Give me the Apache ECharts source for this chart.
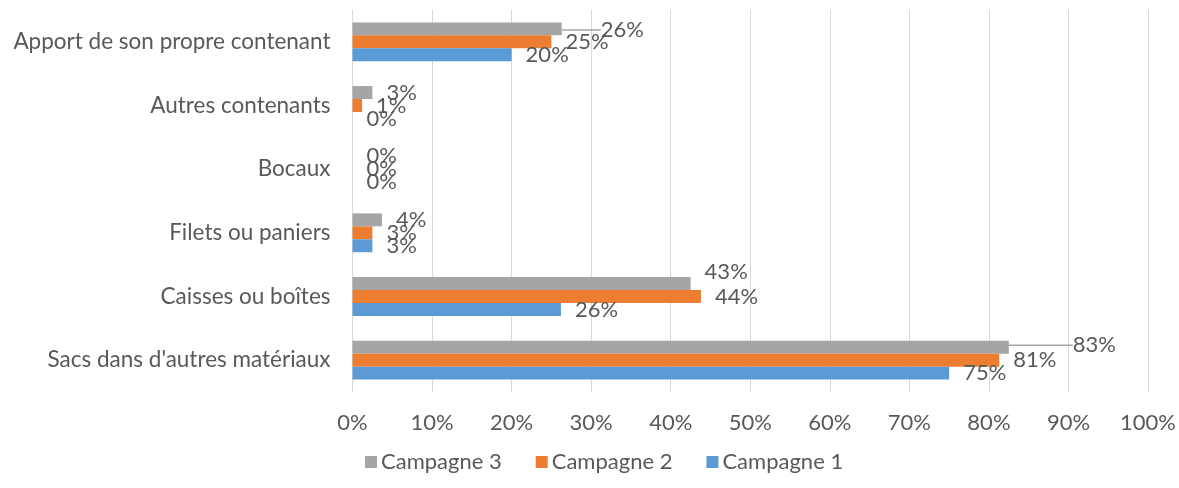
<!DOCTYPE html>
<html>
<head>
<meta charset="utf-8">
<script src="https://cdn.jsdelivr.net/npm/echarts@6/dist/echarts.min.js"></script>
<style>
  html, body { margin: 0; padding: 0; background: #ffffff; }
  #chart { width: 1179px; height: 488px; }
</style>
</head>
<body>
<div id="chart"></div>
<script>
// Categories listed bottom to top on the vertical axis
const categories = [
  "Sacs dans d'autres matériaux",
  'Caisses ou boîtes',
  'Filets ou paniers',
  'Bocaux',
  'Autres contenants',
  'Apport de son propre contenant'
];

// Shares in percent, one array per campaign (same order as categories)
const campagne1 = [75.0, 26.2, 2.5, 0, 0, 20.0];
const campagne2 = [81.3, 43.8, 2.5, 0, 1.2, 25.0];
const campagne3 = [82.5, 42.5, 3.7, 0, 2.5, 26.3];

// Series drawn top to bottom inside each group
const seriesNames = ['Campagne 3', 'Campagne 2', 'Campagne 1'];
const seriesValues = [campagne3, campagne2, campagne1];
const colors = ['#a5a5a5', '#ed7d31', '#5b9bd5'];
const axisTicks = [0, 10, 20, 30, 40, 50, 60, 70, 80, 90, 100];

const textColor = '#595959';
const fontFamily = 'Lato, "Noto Sans", sans-serif';

// Hand-placed labels for a few crowded bars: series index -> category index -> offset
const movedLabels = {
  0: {
    0: { dx: 50, dy: -2, line: true },
    1: { dx: 0, dy: -12, line: false },
    5: { dx: 25, dy: 1, line: true }
  }
};

function buildData(values, sIdx) {
  return values.map((v, i) => {
    const m = movedLabels[sIdx] && movedLabels[sIdx][i];
    if (m && m.line) {
      return { value: v, labelLine: { show: true } };
    }
    return v;
  });
}

const chart = echarts.init(document.getElementById('chart'), null, { renderer: 'canvas' });

chart.setOption({
  animation: false,
  textStyle: { fontFamily: fontFamily },
  grid: { left: 352.5, right: 29, top: 10, bottom: 96, containLabel: false },
  legend: {
    data: seriesNames,
    bottom: 10,
    left: 360,
    itemWidth: 12,
    itemHeight: 12,
    itemGap: 34,
    icon: 'rect',
    textStyle: { color: textColor, fontSize: 22, fontFamily: fontFamily, padding: [0, 0, 0, -1] }
  },
  xAxis: {
    type: 'value',
    min: axisTicks[0],
    max: axisTicks[axisTicks.length - 1],
    interval: axisTicks[1] - axisTicks[0],
    axisLine: { show: false },
    axisTick: { show: false },
    splitLine: { show: true, lineStyle: { color: '#d9d9d9', width: 1 } },
    axisLabel: {
      color: textColor, fontSize: 22, margin: 20, fontFamily: fontFamily,
      formatter: '{value}%'
    }
  },
  yAxis: {
    type: 'category',
    data: categories,
    axisLine: { show: false },
    axisTick: { show: false },
    splitLine: { show: false },
    axisLabel: { color: textColor, fontSize: 22.5, margin: 22, fontFamily: fontFamily }
  },
  series: seriesNames.map((name, sIdx) => ({
    name: name,
    type: 'bar',
    data: buildData(seriesValues[sIdx], sIdx),
    itemStyle: { color: colors[sIdx] },
    barGap: '0%',
    barCategoryGap: '39%',
    label: {
      show: true,
      position: 'right',
      distance: 14,
      color: textColor,
      fontSize: 22,
      fontFamily: fontFamily,
      formatter: p => Math.round(p.value) + '%'
    },
    labelLine: { show: false, lineStyle: { color: '#a5a5a5', width: 1.5 } },
    labelLayout: params => {
      const m = movedLabels[sIdx] && movedLabels[sIdx][params.dataIndex];
      return m ? { dx: m.dx, dy: m.dy } : {};
    }
  }))
});
</script>
</body>
</html>
